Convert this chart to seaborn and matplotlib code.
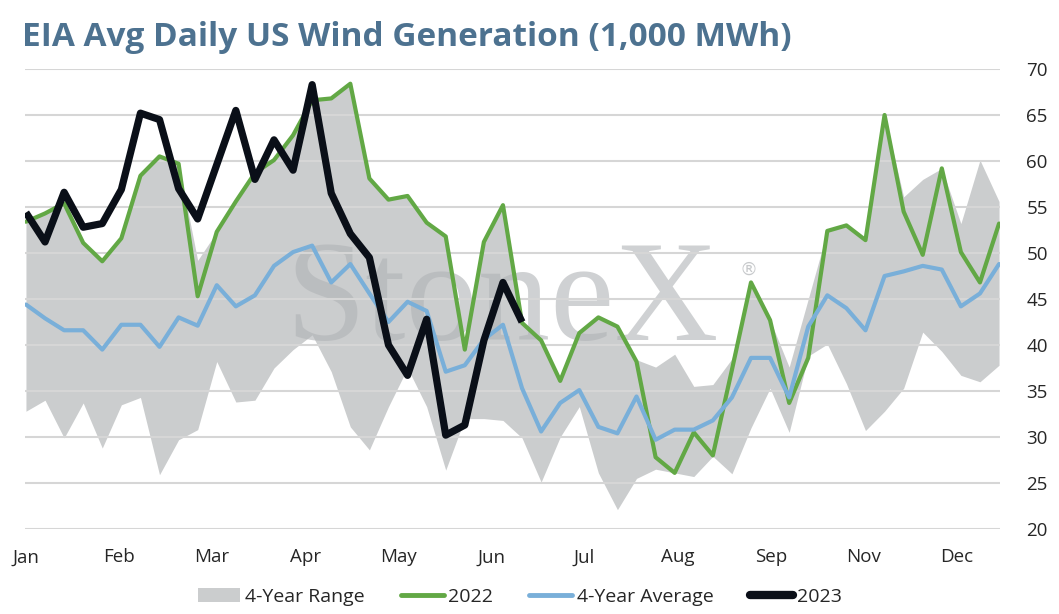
import numpy as np
import pandas as pd
import matplotlib
matplotlib.use("Agg")
import matplotlib.pyplot as plt
from matplotlib.patches import Patch
from matplotlib.lines import Line2D
import seaborn as sns

# ---------------- data ----------------
month_labels = ["Jan", "Feb", "Mar", "Apr", "May", "Jun", "Jul", "Aug", "Sep", "Nov", "Dec"]

y2022 = [53.4, 54.3, 55.4, 51.1, 49.1, 51.6, 58.4, 60.5, 59.7, 45.3,
         52.3, 55.6, 58.7, 60.1, 62.8, 66.6, 66.8, 68.4, 58.1, 55.8,
         56.2, 53.3, 51.8, 39.5, 51.2, 55.2, 42.4, 40.5, 36.1, 41.3,
         43.0, 42.0, 38.2, 27.8, 26.1, 30.5, 28.0, 37.3, 46.8, 42.7,
         33.7, 38.6, 52.4, 53.0, 51.4, 65.0, 54.5, 49.8, 59.2, 50.1,
         46.8, 53.2]

avg4 = [44.4, 42.9, 41.6, 41.6, 39.5, 42.2, 42.2, 39.8, 43.0, 42.1,
        46.5, 44.2, 45.4, 48.6, 50.1, 50.8, 46.8, 48.8, 45.6, 42.5,
        44.7, 43.7, 37.1, 37.8, 40.6, 42.2, 35.3, 30.6, 33.7, 35.1,
        31.1, 30.4, 34.4, 29.7, 30.8, 30.8, 31.8, 34.3, 38.6, 38.6,
        34.3, 42.0, 45.4, 44.0, 41.6, 47.5, 48.0, 48.6, 48.2, 44.2,
        45.6, 48.8]

y2023 = [54.4, 51.2, 56.6, 52.8, 53.2, 56.9, 65.2, 64.5, 57.0, 53.7,
         59.6, 65.5, 58.0, 62.3, 59.0, 68.3, 56.5, 52.1, 49.5, 40.0,
         36.7, 42.8, 30.2, 31.3, 40.5, 46.8, 42.5]

range_low = [32.8, 34.0, 29.9, 33.7, 28.8, 33.5, 34.3, 25.9, 29.7, 30.8,
             38.2, 33.8, 34.0, 37.5, 39.5, 41.1, 37.1, 31.1, 28.6, 33.3,
             37.5, 33.3, 26.4, 32.0, 32.0, 31.8, 29.9, 25.1, 30.0, 33.3,
             26.1, 22.1, 25.5, 26.5, 26.1, 25.7, 27.9, 26.0, 31.0, 35.3,
             30.5, 38.8, 40.1, 35.8, 30.7, 32.8, 35.3, 41.4, 39.3, 36.7,
             36.0, 37.8]

range_high = [53.4, 54.3, 55.4, 51.1, 49.1, 51.6, 58.4, 60.5, 59.7, 49.2,
              52.3, 55.6, 58.7, 60.1, 62.8, 66.6, 66.8, 68.4, 58.1, 55.8,
              56.2, 53.3, 51.8, 39.5, 51.2, 55.2, 42.4, 40.5, 36.1, 41.3,
              43.0, 42.0, 38.4, 37.6, 39.0, 35.5, 35.7, 38.5, 46.8, 42.7,
              37.6, 45.0, 52.4, 53.0, 51.4, 65.0, 56.1, 58.0, 59.2, 53.2,
              60.1, 55.6]

weeks = np.arange(len(y2022))
df = pd.DataFrame({"week": weeks, "y2022": y2022, "avg": avg4,
                   "low": range_low, "high": range_high})
df23 = pd.DataFrame({"week": np.arange(len(y2023)), "y2023": y2023})

# ---------------- style ----------------
sns.set_theme(style="white")
plt.rcParams["font.family"] = ["Open Sans", "DejaVu Sans"]

C_FILL = "#cbcdce"
C_GREEN = "#62a845"
C_BLUE = "#79afd9"
C_BLACK = "#0a0f18"
C_GRID = "#d6d6d6"
C_TEXT = "#262626"
C_TITLE = "#4d7290"

fig = plt.figure(figsize=(10.59, 6.14), dpi=100)
ax = fig.add_axes([25 / 1059, 1 - 529 / 614, 975 / 1059, 460 / 614])

ax.fill_between(df["week"], df["low"], df["high"], color=C_FILL,
                linewidth=0, zorder=1)

ax.text(0.489, 0.411, "StoneX", transform=ax.transAxes, ha="center",
        va="baseline", fontsize=104, family="Liberation Serif",
        color="#b0b3b6", alpha=0.6, zorder=2)
ax.text(0.742, 0.563, "®", transform=ax.transAxes, ha="center",
        va="center", fontsize=13, family="DejaVu Sans",
        color="#b0b3b6", alpha=0.7, zorder=2)

sns.lineplot(data=df, x="week", y="y2022", ax=ax, color=C_GREEN,
             linewidth=3.0, zorder=4, solid_joinstyle="round")
sns.lineplot(data=df, x="week", y="avg", ax=ax, color=C_BLUE,
             linewidth=3.0, zorder=5, solid_joinstyle="round")
sns.lineplot(data=df23, x="week", y="y2023", ax=ax, color=C_BLACK,
             linewidth=5.2, zorder=6, solid_joinstyle="round",
             solid_capstyle="butt")

ax.set_xlim(-0.05, len(weeks) - 1 + 0.05)
ax.set_ylim(20, 70)
ax.set_yticks(np.arange(20, 71, 5))
ax.yaxis.tick_right()
ax.grid(axis="y", color=C_GRID, linewidth=1.5, zorder=3)
ax.grid(axis="x", visible=False)
ax.set_axisbelow(False)
for gl in ax.get_ygridlines():
    gl.set_zorder(3)

tick_step = 4.88
ax.set_xticks(np.arange(len(month_labels)) * tick_step)
ax.set_xticklabels(month_labels)
ax.tick_params(axis="both", length=0, labelsize=13.5, colors=C_TEXT)
ax.tick_params(axis="x", pad=14)
ax.tick_params(axis="y", pad=19)
ax.set_xlabel("")
ax.set_ylabel("")
for s in ax.spines.values():
    s.set_visible(False)

fig.text(22 / 1059, 1 - 37 / 614, "EIA Avg Daily US Wind Generation (1,000 MWh)",
         ha="left", va="center", fontsize=24, fontweight="bold", color=C_TITLE)

handles = [Patch(facecolor=C_FILL, edgecolor="none"),
           Line2D([], [], color=C_GREEN, lw=3.5),
           Line2D([], [], color=C_BLUE, lw=3.5),
           Line2D([], [], color=C_BLACK, lw=6, solid_capstyle="round")]
labels = ["4-Year Range", "2022", "4-Year Average", "2023"]
fig.legend(handles, labels, loc="center", bbox_to_anchor=(0.491, 1 - 597 / 614),
           ncol=4, frameon=False, fontsize=14, handlelength=2.2,
           handletextpad=0.25, columnspacing=1.85, labelcolor=C_TEXT)

fig.savefig("out.png", dpi=100)
